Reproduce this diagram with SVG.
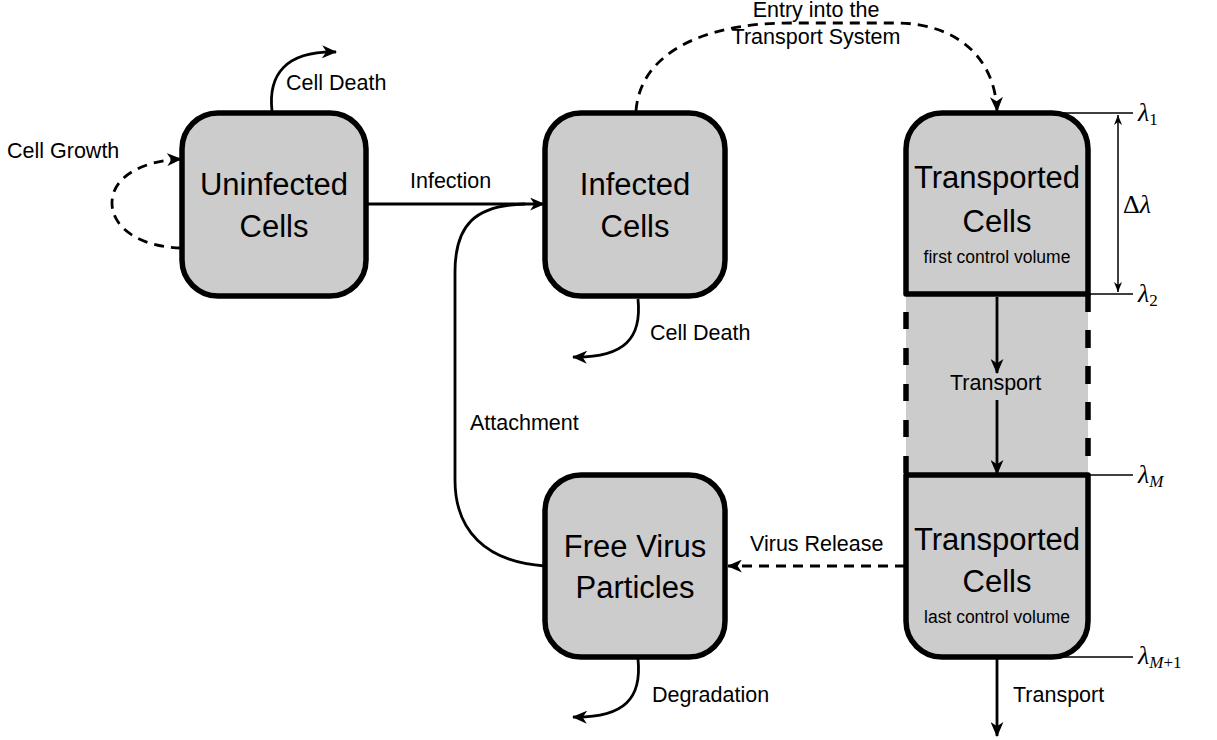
<svg xmlns="http://www.w3.org/2000/svg" width="1217" height="740" viewBox="0 0 1217 740">
<style>
.box{fill:#cccccc;stroke:#000;stroke-width:5.5;stroke-linejoin:round}
.big{font-family:"Liberation Sans",Arial,sans-serif;font-size:31px;text-anchor:middle;fill:#000}
.small{font-family:"Liberation Sans",Arial,sans-serif;font-size:17.5px;text-anchor:middle;fill:#000}
.lbl{font-family:"Liberation Sans",Arial,sans-serif;font-size:21.5px;fill:#000}
.math{font-family:"Liberation Serif","Times New Roman",serif;font-size:26px;fill:#000}
.c{fill:none;stroke:#000;stroke-width:2.8}
.d{stroke-dasharray:10 7}
.thin{fill:none;stroke:#000;stroke-width:1.5}
</style>
<defs>
<marker id="ah" viewBox="0 0 14 12" refX="13" refY="6" markerWidth="15" markerHeight="13" markerUnits="userSpaceOnUse" orient="auto">
<path d="M0,0 L14,6 L0,12 L4,6 z" fill="#000"/>
</marker>
<marker id="ahs" viewBox="0 0 10 8" refX="10" refY="4" markerWidth="10" markerHeight="8" markerUnits="userSpaceOnUse" orient="auto-start-reverse">
<path d="M0,0 L10,4 L0,8 L3,4 z" fill="#000"/>
</marker>
</defs>

<g id="middle-volume">
<rect x="906" y="294" width="182" height="181" fill="#cccccc"/>
<line x1="906" y1="312" x2="906" y2="475" stroke="#000" stroke-width="5.5" stroke-dasharray="17 19"/>
<line x1="1088" y1="294" x2="1088" y2="475" stroke="#000" stroke-width="5.5" stroke-dasharray="18 18"/>
</g>

<g id="uninfected">
<rect class="box" x="182" y="113" width="184" height="183" rx="36" ry="36"/>
<text class="big" x="274" y="195">Uninfected</text>
<text class="big" x="274" y="237">Cells</text>
</g>

<g id="infected">
<rect class="box" x="545" y="113" width="180" height="183" rx="36" ry="36"/>
<text class="big" x="635" y="195">Infected</text>
<text class="big" x="635" y="237">Cells</text>
</g>

<g id="freevirus">
<rect class="box" x="545" y="475" width="180" height="182" rx="36" ry="36"/>
<text class="big" x="635" y="557">Free Virus</text>
<text class="big" x="635" y="598">Particles</text>
</g>

<g id="transported-first">
<path class="box" d="M906,294 L906,149 A36,36 0 0 1 942,113 L1052,113 A36,36 0 0 1 1088,149 L1088,294 Z"/>
<text class="big" x="997" y="188">Transported</text>
<text class="big" x="997" y="232">Cells</text>
<text class="small" x="997" y="263">first control volume</text>
</g>

<g id="transported-last">
<path class="box" d="M906,475 L1088,475 L1088,621 A36,36 0 0 1 1052,657 L942,657 A36,36 0 0 1 906,621 Z"/>
<text class="big" x="997" y="550">Transported</text>
<text class="big" x="997" y="592">Cells</text>
<text class="small" x="997" y="623">last control volume</text>
</g>

<g id="connectors">
<path class="c" d="M272,111 C268,75 285,51 336,52" marker-end="url(#ah)"/>
<path class="c d" d="M181,248 C140,247 112,228 112,203 C112,178 140,161 181,159" marker-end="url(#ah)"/>
<path class="c" d="M368,204 L544,204" marker-end="url(#ah)"/>
<path class="c" d="M545,566 C485,562 455,530 455,480 L455,272 C455,225 475,205 525,204"/>
<path class="c" d="M638,299 C642,338 625,358 573,357" marker-end="url(#ah)"/>
<path class="c" d="M638,659 C642,698 625,718 573,717" marker-end="url(#ah)"/>
<path class="c d" d="M636,111 C640,55 700,23 790,23 L900,23 C960,25 995,60 997,111" marker-end="url(#ah)"/>
<path class="c d" d="M905,566 L728,566" marker-end="url(#ah)"/>
<path class="c" d="M997,297 L997,373" marker-end="url(#ah)"/>
<path class="c" d="M997,400 L997,474" marker-end="url(#ah)"/>
<path class="c" d="M997,659 L997,736" marker-end="url(#ah)"/>
</g>

<g id="labels">
<text class="lbl" x="286" y="90">Cell Death</text>
<text class="lbl" x="7" y="158">Cell Growth</text>
<text class="lbl" x="410" y="188">Infection</text>
<text class="lbl" x="816" y="17" text-anchor="middle">Entry into the</text>
<text class="lbl" x="816" y="44" text-anchor="middle">Transport System</text>
<text class="lbl" x="650" y="340">Cell Death</text>
<text class="lbl" x="470" y="430">Attachment</text>
<text class="lbl" x="750" y="551">Virus Release</text>
<text class="lbl" x="652" y="702">Degradation</text>
<text class="lbl" x="950" y="390">Transport</text>
<text class="lbl" x="1013" y="702">Transport</text>
</g>

<g id="scale">
<line class="thin" x1="1060" y1="113" x2="1133" y2="113"/>
<line class="thin" x1="1088" y1="294" x2="1133" y2="294"/>
<line class="thin" x1="1088" y1="475" x2="1133" y2="475"/>
<line class="thin" x1="1060" y1="657" x2="1133" y2="657"/>
<line class="thin" x1="1118" y1="115" x2="1118" y2="292" marker-start="url(#ahs)" marker-end="url(#ahs)"/>
<text class="math" x="1138" y="121"><tspan font-style="italic">λ</tspan><tspan font-size="17" dy="4">1</tspan></text>
<text class="math" x="1123" y="213">Δ<tspan font-style="italic">λ</tspan></text>
<text class="math" x="1138" y="302"><tspan font-style="italic">λ</tspan><tspan font-size="17" dy="4">2</tspan></text>
<text class="math" x="1138" y="483"><tspan font-style="italic">λ</tspan><tspan font-size="17" font-style="italic" dy="4">M</tspan></text>
<text class="math" x="1138" y="664"><tspan font-style="italic">λ</tspan><tspan font-size="17" dy="4"><tspan font-style="italic">M</tspan>+1</tspan></text>
</g>
</svg>
